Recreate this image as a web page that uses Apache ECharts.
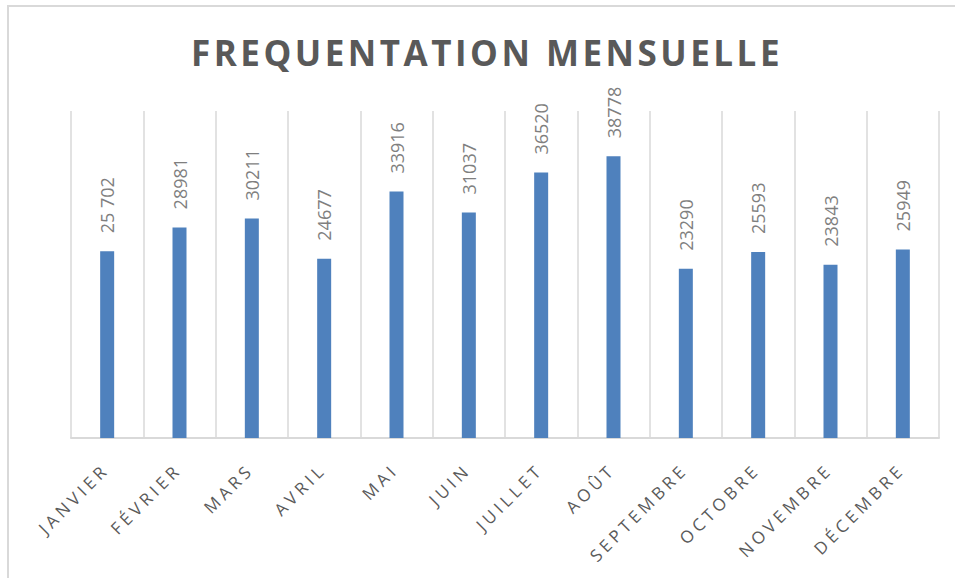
<!DOCTYPE html>
<html>
<head>
<meta charset="utf-8">
<script src="https://cdn.jsdelivr.net/npm/echarts@6/dist/echarts.min.js"></script>
<style>
  html, body { margin: 0; padding: 0; background: #fff; }
  #chart { width: 955px; height: 578px; }
  /* letter spacing for title and month labels (svg renderer) */
  #chart text[fill="#595959"] { letter-spacing: 3.5px; }
  #chart text[fill="#5a5a5a"] { letter-spacing: 4px; }
</style>
</head>
<body>
<div id="chart"></div>
<script>
// data
const months = ['JANVIER', 'FÉVRIER', 'MARS', 'AVRIL', 'MAI', 'JUIN', 'JUILLET', 'AOÛT', 'SEPTEMBRE', 'OCTOBRE', 'NOVEMBRE', 'DÉCEMBRE']
const visits = [25702, 28981, 30211, 24677, 33916, 31037, 36520, 38778, 23290, 25593, 23843, 25949]
const valueLabels = ['25 702', '28981', '30211', '24677', '33916', '31037', '36520', '38778', '23290', '25593', '23843', '25949']
const chartTitle = 'FREQUENTATION MENSUELLE'

const chart = echarts.init(document.getElementById('chart'), null, { renderer: 'svg' })

const option = {
  backgroundColor: '#fff',
  animation: false,
  title: {
    text: chartTitle,
    left: 186,
    top: 30,
    textStyle: {
      fontFamily: 'Open Sans',
      fontWeight: 'bold',
      fontSize: 35,
      color: '#595959'
    }
  },
  graphic: [
    {
      type: 'polyline',
      shape: { points: [[8, 600], [8, 6], [960, 6]] },
      style: { stroke: '#d9d9d9', lineWidth: 2, fill: null },
      silent: true
    }
  ],
  grid: {
    left: 71,
    right: 16,
    top: 111,
    bottom: 140,
    containLabel: false
  },
  xAxis: {
    type: 'category',
    data: months,
    boundaryGap: true,
    axisLine: { show: true, lineStyle: { color: '#d9d9d9', width: 2 } },
    axisTick: { show: false },
    splitLine: { show: true, lineStyle: { color: '#d9d9d9', width: 1.5 } },
    axisLabel: {
      interval: 0,
      rotate: 45,
      margin: 27,
      padding: [0, 2, 0, 0],
      fontFamily: 'Open Sans',
      fontSize: 17,
      color: '#5a5a5a'
    }
  },
  yAxis: {
    type: 'value',
    min: 0,
    max: 45000,
    interval: 5000,
    show: false,
    splitLine: { show: false }
  },
  series: [
    {
      type: 'bar',
      data: visits,
      barWidth: 14,
      itemStyle: { color: '#4f81bd' },
      label: {
        show: true,
        position: 'top',
        rotate: 90,
        align: 'left',
        verticalAlign: 'middle',
        distance: 18,
        fontFamily: 'Open Sans',
        fontSize: 18,
        color: '#7f7f7f',
        formatter: (p) => valueLabels[p.dataIndex]
      }
    }
  ]
}

chart.setOption(option)
</script>
</body>
</html>
